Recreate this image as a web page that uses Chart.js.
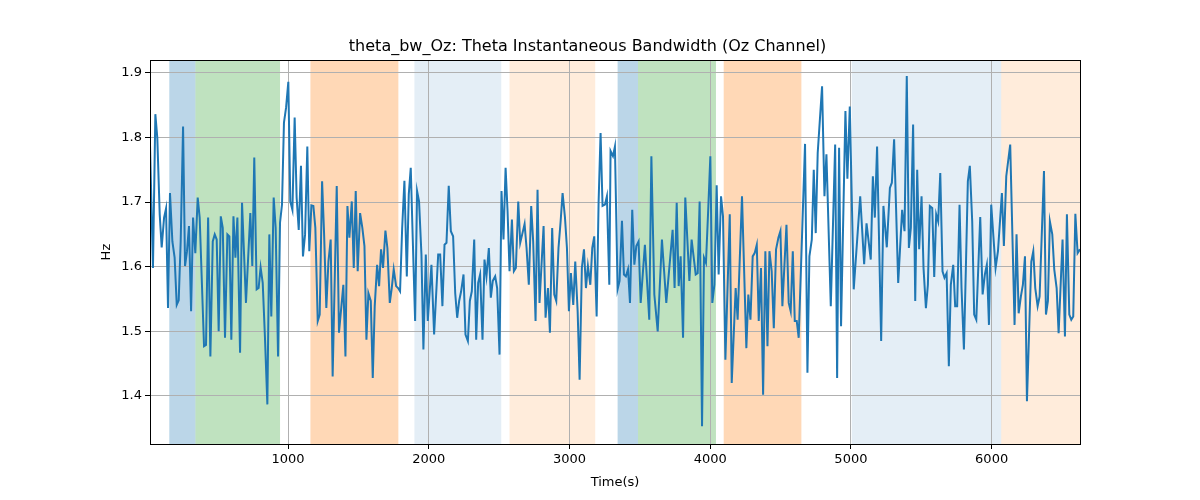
<!DOCTYPE html>
<html>
<head>
<meta charset="utf-8">
<script src="https://cdn.jsdelivr.net/npm/chart.js@4/dist/chart.umd.min.js"></script>
<style>
  html, body { margin: 0; padding: 0; background: #ffffff; }
  #wrap { width: 1200px; height: 500px; }
</style>
</head>
<body>
<div id="wrap"><canvas id="c" width="1200" height="500"></canvas></div>
<script>
// ---------------- data ----------------
const times = [
  19, 40, 57, 71, 88, 102, 119, 133, 147, 161, 178, 194, 209, 223, 237, 254, 268, 282, 296, 311, 325, 341, 358, 372, 403, 417, 432, 448, 465, 479, 493, 507, 522, 536, 552, 569, 583, 597, 612, 626, 640, 659, 673,
  701, 732, 746, 760, 777, 791, 805, 820, 836, 853, 867, 881, 898, 912, 929, 943, 957, 971, 986, 1002, 1016, 1031, 1047, 1061, 1076, 1092, 1106, 1121, 1137, 1151, 1166, 1180, 1194, 1211, 1225, 1242, 1256, 1272, 1287, 1303, 1317,
  1346, 1362, 1393, 1408, 1422, 1436, 1453, 1467, 1481, 1495, 1512, 1528, 1543, 1557, 1571, 1588, 1602, 1616, 1633, 1647, 1661, 1675, 1692, 1706, 1723, 1737, 1751, 1768, 1782, 1796, 1811, 1827, 1844, 1858, 1872, 1886, 1903, 1917, 1931, 1948, 1962, 1979,
  1993, 2019, 2038, 2067, 2081, 2097, 2112, 2126, 2142, 2157, 2173, 2188, 2202, 2216, 2230, 2247, 2261, 2278, 2292, 2306, 2323, 2337, 2351, 2365, 2382, 2396, 2410, 2427, 2441, 2455, 2472, 2486, 2503, 2517, 2531, 2546, 2560, 2574, 2591, 2605, 2619, 2636,
  2650, 2664, 2681, 2695, 2711, 2728, 2742, 2759, 2773, 2787, 2816, 2830, 2847, 2861, 2877, 2892, 2906, 2922, 2937, 2951, 2968, 2982, 2996, 3010, 3027, 3041, 3058, 3072, 3088, 3103, 3117, 3131, 3148, 3162, 3176, 3193, 3207, 3221, 3235, 3252, 3266, 3283, 3292,
  3309, 3323, 3342, 3356, 3373, 3387, 3401, 3416, 3430, 3446, 3461, 3475, 3491, 3506, 3536, 3567, 3582, 3603, 3627, 3657, 3688, 3733, 3747, 3762, 3776, 3790, 3807, 3823, 3852, 3868, 3897, 3911, 3925, 3942,
  3956, 3970, 3987, 4001, 4015, 4030, 4046, 4060, 4077, 4091, 4108, 4139, 4153, 4181, 4195, 4226, 4257, 4271, 4286, 4302, 4316, 4331, 4345, 4361, 4376, 4392, 4407, 4421, 4437, 4452, 4468, 4485, 4499, 4513, 4542, 4558, 4572, 4587, 4601,
  4615, 4629, 4674, 4691, 4705, 4722, 4736, 4750, 4764, 4795, 4812, 4826, 4857, 4888, 4902, 4916, 4930, 4961, 4975, 4992, 5020, 5066, 5094, 5111, 5141, 5156, 5170, 5186, 5215, 5231, 5255,
  5277, 5291, 5307, 5336, 5364, 5381, 5397, 5412, 5426, 5442, 5457, 5471, 5485, 5502, 5516, 5533, 5547, 5561, 5578, 5592, 5606, 5620, 5635, 5651, 5665, 5680, 5696, 5710, 5727, 5741, 5755, 5772, 5786, 5803, 5817, 5831, 5845, 5862, 5876, 5891,
  5919, 5936, 5952, 5966, 5981, 5997, 6028, 6045, 6073, 6087, 6104, 6132, 6163, 6177, 6192, 6208, 6222, 6237, 6251, 6282, 6296, 6310, 6327, 6341, 6372, 6386, 6400, 6414, 6431, 6445, 6462, 6476, 6504, 6521, 6535, 6552, 6566, 6580, 6595, 6611, 6628
];
const bandwidth = [
  1.789, 1.598, 1.836, 1.799, 1.681, 1.630, 1.676, 1.690, 1.536, 1.714, 1.639, 1.614, 1.541, 1.548, 1.639, 1.817, 1.601, 1.624, 1.663, 1.531, 1.676, 1.621, 1.707, 1.676, 1.477, 1.479, 1.676, 1.461, 1.639, 1.650, 1.642, 1.500, 1.678, 1.660, 1.490, 1.650, 1.647, 1.487, 1.678, 1.614, 1.676, 1.467, 1.699,
  1.544, 1.683, 1.601, 1.769, 1.565, 1.567, 1.599, 1.575, 1.490, 1.387, 1.650, 1.523, 1.707, 1.660, 1.461, 1.668, 1.696, 1.823, 1.846, 1.886, 1.701, 1.688, 1.831, 1.707, 1.657, 1.756, 1.616, 1.650, 1.786, 1.624, 1.695, 1.694, 1.660, 1.516, 1.526, 1.732, 1.652, 1.536, 1.608, 1.642, 1.430,
  1.725, 1.498, 1.572, 1.461, 1.694, 1.645, 1.701, 1.598, 1.717, 1.593, 1.683, 1.660, 1.632, 1.487, 1.559, 1.547, 1.428, 1.539, 1.603, 1.570, 1.627, 1.598, 1.656, 1.629, 1.544, 1.567, 1.596, 1.570, 1.567, 1.562, 1.660, 1.733, 1.585, 1.712, 1.753, 1.645, 1.516, 1.717, 1.701, 1.619, 1.472, 1.619,
  1.516, 1.603, 1.495, 1.619, 1.619, 1.539, 1.634, 1.637, 1.725, 1.655, 1.647, 1.559, 1.521, 1.547, 1.562, 1.588, 1.495, 1.485, 1.547, 1.562, 1.642, 1.487, 1.575, 1.588, 1.487, 1.611, 1.585, 1.629, 1.552, 1.578, 1.585, 1.567, 1.464, 1.717, 1.642, 1.753, 1.686, 1.593, 1.673, 1.593, 1.598, 1.701,
  1.637, 1.650, 1.666, 1.629, 1.572, 1.694, 1.639, 1.516, 1.719, 1.544, 1.663, 1.521, 1.567, 1.498, 1.660, 1.557, 1.547, 1.629, 1.670, 1.714, 1.676, 1.629, 1.531, 1.590, 1.541, 1.608, 1.531, 1.425, 1.598, 1.627, 1.567, 1.601, 1.572, 1.629, 1.647, 1.523, 1.701, 1.807, 1.694, 1.696, 1.709, 1.572, 1.779,
  1.771, 1.786, 1.565, 1.578, 1.671, 1.588, 1.585, 1.596, 1.544, 1.688, 1.603, 1.632, 1.639, 1.544, 1.634, 1.518, 1.771, 1.557, 1.500, 1.642, 1.544, 1.657, 1.567, 1.699, 1.570, 1.616, 1.490, 1.707, 1.578, 1.642, 1.588, 1.590, 1.701, 1.353,
  1.614, 1.606, 1.694, 1.771, 1.544, 1.572, 1.726, 1.588, 1.709, 1.678, 1.456, 1.681, 1.420, 1.567, 1.518, 1.709, 1.474, 1.557, 1.518, 1.616, 1.621, 1.634, 1.516, 1.598, 1.402, 1.624, 1.477, 1.624, 1.593, 1.505, 1.627, 1.645, 1.655, 1.539, 1.665, 1.544, 1.531, 1.624, 1.516,
  1.516, 1.490, 1.790, 1.436, 1.616, 1.642, 1.750, 1.652, 1.776, 1.879, 1.709, 1.774, 1.539, 1.789, 1.428, 1.784, 1.508, 1.841, 1.736, 1.848, 1.565, 1.709, 1.604, 1.667, 1.611, 1.740, 1.676, 1.786, 1.485, 1.694, 1.630,
  1.722, 1.730, 1.797, 1.575, 1.688, 1.655, 1.895, 1.629, 1.660, 1.820, 1.547, 1.750, 1.627, 1.709, 1.598, 1.536, 1.572, 1.694, 1.691, 1.584, 1.681, 1.670, 1.745, 1.593, 1.583, 1.590, 1.446, 1.572, 1.603, 1.539, 1.539, 1.696, 1.567, 1.472, 1.598, 1.732, 1.756, 1.670, 1.526, 1.518,
  1.677, 1.557, 1.588, 1.603, 1.510, 1.696, 1.598, 1.624, 1.714, 1.632, 1.740, 1.789, 1.510, 1.650, 1.528, 1.554, 1.572, 1.616, 1.392, 1.608, 1.624, 1.567, 1.539, 1.554, 1.748, 1.526, 1.547, 1.670, 1.650, 1.596, 1.567, 1.497, 1.642, 1.492, 1.681, 1.526, 1.518, 1.523, 1.682, 1.621, 1.627
];
const spanStart = [156, 342, 1159, 1898, 2574, 3342, 3487, 4096, 5006, 6068];
const spanEnd   = [342, 943, 1784, 2515, 3183, 3487, 4041, 4648, 6068, 6628];
const spanKind  = ['a', 'b', 'c', 'd', 'e', 'a', 'b', 'c', 'd', 'e'];
const xTicks = [1000, 2000, 3000, 4000, 5000, 6000];
const yTicks = [1.4, 1.5, 1.6, 1.7, 1.8, 1.9];
const yMin = 1.3257, yMax = 1.9195;
const titleText = 'theta_bw_Oz: Theta Instantaneous Bandwidth (Oz Channel)';

// ---------------- styles ----------------
const spanFill = {
  a: 'rgba(31,119,180,0.3)',
  b: 'rgba(44,160,44,0.3)',
  c: 'rgba(255,127,14,0.3)',
  d: 'rgba(31,119,180,0.12)',
  e: 'rgba(255,127,14,0.15)'
};
const FONT = 'DejaVu Sans';

const bgAndSpans = {
  id: 'bgAndSpans',
  beforeDraw(chart) {
    const ctx = chart.ctx, area = chart.chartArea, xs = chart.scales.x;
    ctx.save();
    ctx.fillStyle = '#ffffff';
    ctx.fillRect(0, 0, chart.width, chart.height);
    ctx.beginPath();
    ctx.rect(area.left, area.top, area.right - area.left, area.bottom - area.top);
    ctx.clip();
    for (let i = 0; i < spanStart.length; i++) {
      const x0 = xs.getPixelForValue(spanStart[i]);
      const x1 = xs.getPixelForValue(spanEnd[i]);
      ctx.fillStyle = spanFill[spanKind[i]];
      ctx.fillRect(x0, area.top, x1 - x0, area.bottom - area.top);
    }
    ctx.restore();
  }
};
const frame = {
  id: 'frame',
  afterDatasetsDraw(chart) {
    const ctx = chart.ctx, a = chart.chartArea;
    ctx.save();
    ctx.strokeStyle = '#000000';
    ctx.lineWidth = 1;
    ctx.strokeRect(Math.round(a.left) + 0.5, Math.round(a.top) + 0.5,
                   Math.round(a.right - a.left), Math.round(a.bottom - a.top));
    ctx.restore();
  }
};

const points = times.map((t, i) => ({ x: t, y: bandwidth[i] }));

new Chart(document.getElementById('c'), {
  type: 'line',
  data: {
    datasets: [{
      data: points,
      borderColor: '#1f77b4',
      borderWidth: 2,
      pointRadius: 0,
      tension: 0,
      fill: false
    }]
  },
  options: {
    responsive: false,
    animation: false,
    layout: { padding: { top: 37, left: 95, right: 120, bottom: 6 } },
    plugins: {
      legend: { display: false },
      tooltip: { enabled: false },
      title: {
        display: true,
        text: titleText,
        color: '#000000',
        font: { family: FONT, size: 16, weight: 'normal' },
        padding: { top: 0, bottom: 4 }
      }
    },
    scales: {
      x: {
        type: 'linear',
        min: times[0],
        max: times[times.length - 1],
        afterBuildTicks: (s) => { s.ticks = xTicks.map(v => ({ value: v })); },
        afterFit: (s) => { s.height = 50; },
        ticks: {
          color: '#000000',
          font: { family: FONT, size: 13 },
          padding: 3,
          maxRotation: 0,
          autoSkip: false,
          callback: (v) => String(v)
        },
        grid: { color: '#b0b0b0', lineWidth: 1, tickColor: '#000000', tickLength: 5 },
        border: { display: false },
        title: {
          display: true, text: 'Time(s)', color: '#000000',
          font: { family: FONT, size: 13 }, padding: { top: 2, bottom: 4 }
        }
      },
      y: {
        type: 'linear',
        min: yMin,
        max: yMax,
        afterBuildTicks: (s) => { s.ticks = yTicks.map(v => ({ value: v })); },
        afterFit: (s) => { s.width = 55; },
        ticks: {
          color: '#000000',
          font: { family: FONT, size: 13 },
          padding: 3,
          autoSkip: false,
          callback: (v) => Number(v).toFixed(1)
        },
        grid: { color: '#b0b0b0', lineWidth: 1, tickColor: '#000000', tickLength: 5 },
        border: { display: false },
        title: {
          display: true, text: 'Hz', color: '#000000',
          font: { family: FONT, size: 13 }, padding: { top: 4, bottom: 4 }
        }
      }
    }
  },
  plugins: [bgAndSpans, frame]
});
</script>
</body>
</html>
